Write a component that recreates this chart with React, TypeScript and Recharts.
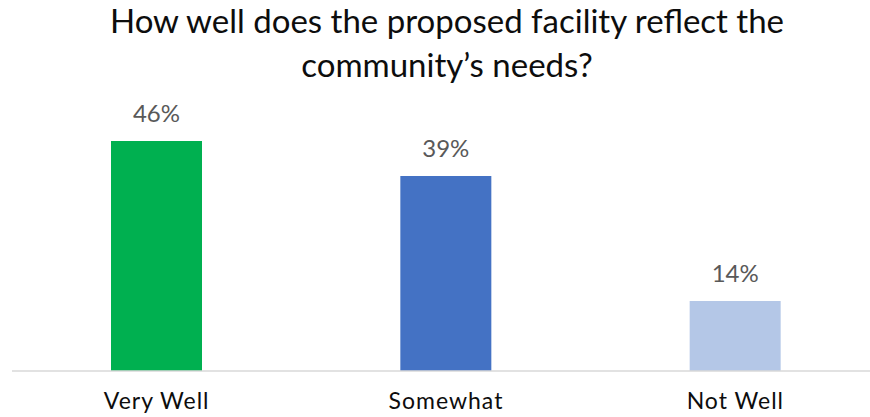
import { BarChart, Bar, XAxis, YAxis, Cell, LabelList } from "recharts";

// survey answers, percent of respondents
const categories = ["Very Well", "Somewhat", "Not Well"];
const shares = [46, 39, 14];
const colors = ["#00B050", "#4472C4", "#B4C7E7"];

const TITLE = "How well does the proposed facility reflect the community’s needs?";
const FONT = "Lato, 'Open Sans', sans-serif";

const rows = categories.map((name, i) => ({ name, value: shares[i] }));

export default function App() {
  return (
    <div
      style={{
        position: "absolute",
        left: 0,
        top: 0,
        width: 870,
        height: 417,
        overflow: "hidden",
        background: "#fff",
        fontFamily: FONT,
      }}
    >
      <div
        style={{
          position: "absolute",
          left: 12,
          top: -2,
          width: 870,
          textAlign: "center",
          fontSize: 33,
          lineHeight: "44px",
          color: "#0d0d0d",
        }}
      >
        How well does the proposed facility reflect the
        <br />
        community’s needs?
      </div>
      <div style={{ position: "absolute", left: 0, top: 0 }} title={TITLE}>
        <BarChart
          width={880}
          height={417}
          data={rows}
          margin={{ top: 121, right: 0, left: 12, bottom: 0 }}
          barCategoryGap={99}
        >
          <XAxis
            dataKey="name"
            height={46}
            tickLine={false}
            axisLine={{ stroke: "#d9d9d9", strokeWidth: 1.5 }}
            tickMargin={16}
            tick={{ fill: "#0d0d0d", fontSize: 23, fontFamily: FONT, letterSpacing: 1 }}
            interval={0}
          />
          <YAxis hide domain={[0, 50]} />
          <Bar dataKey="value" isAnimationActive={false}>
            {rows.map((r, i) => (
              <Cell key={r.name} fill={colors[i]} />
            ))}
            <LabelList
              dataKey="value"
              position="top"
              offset={19}
              formatter={(v: number) => `${v}%`}
              style={{ fill: "#595959", fontSize: 24, fontFamily: FONT }}
            />
          </Bar>
        </BarChart>
      </div>
    </div>
  );
}
